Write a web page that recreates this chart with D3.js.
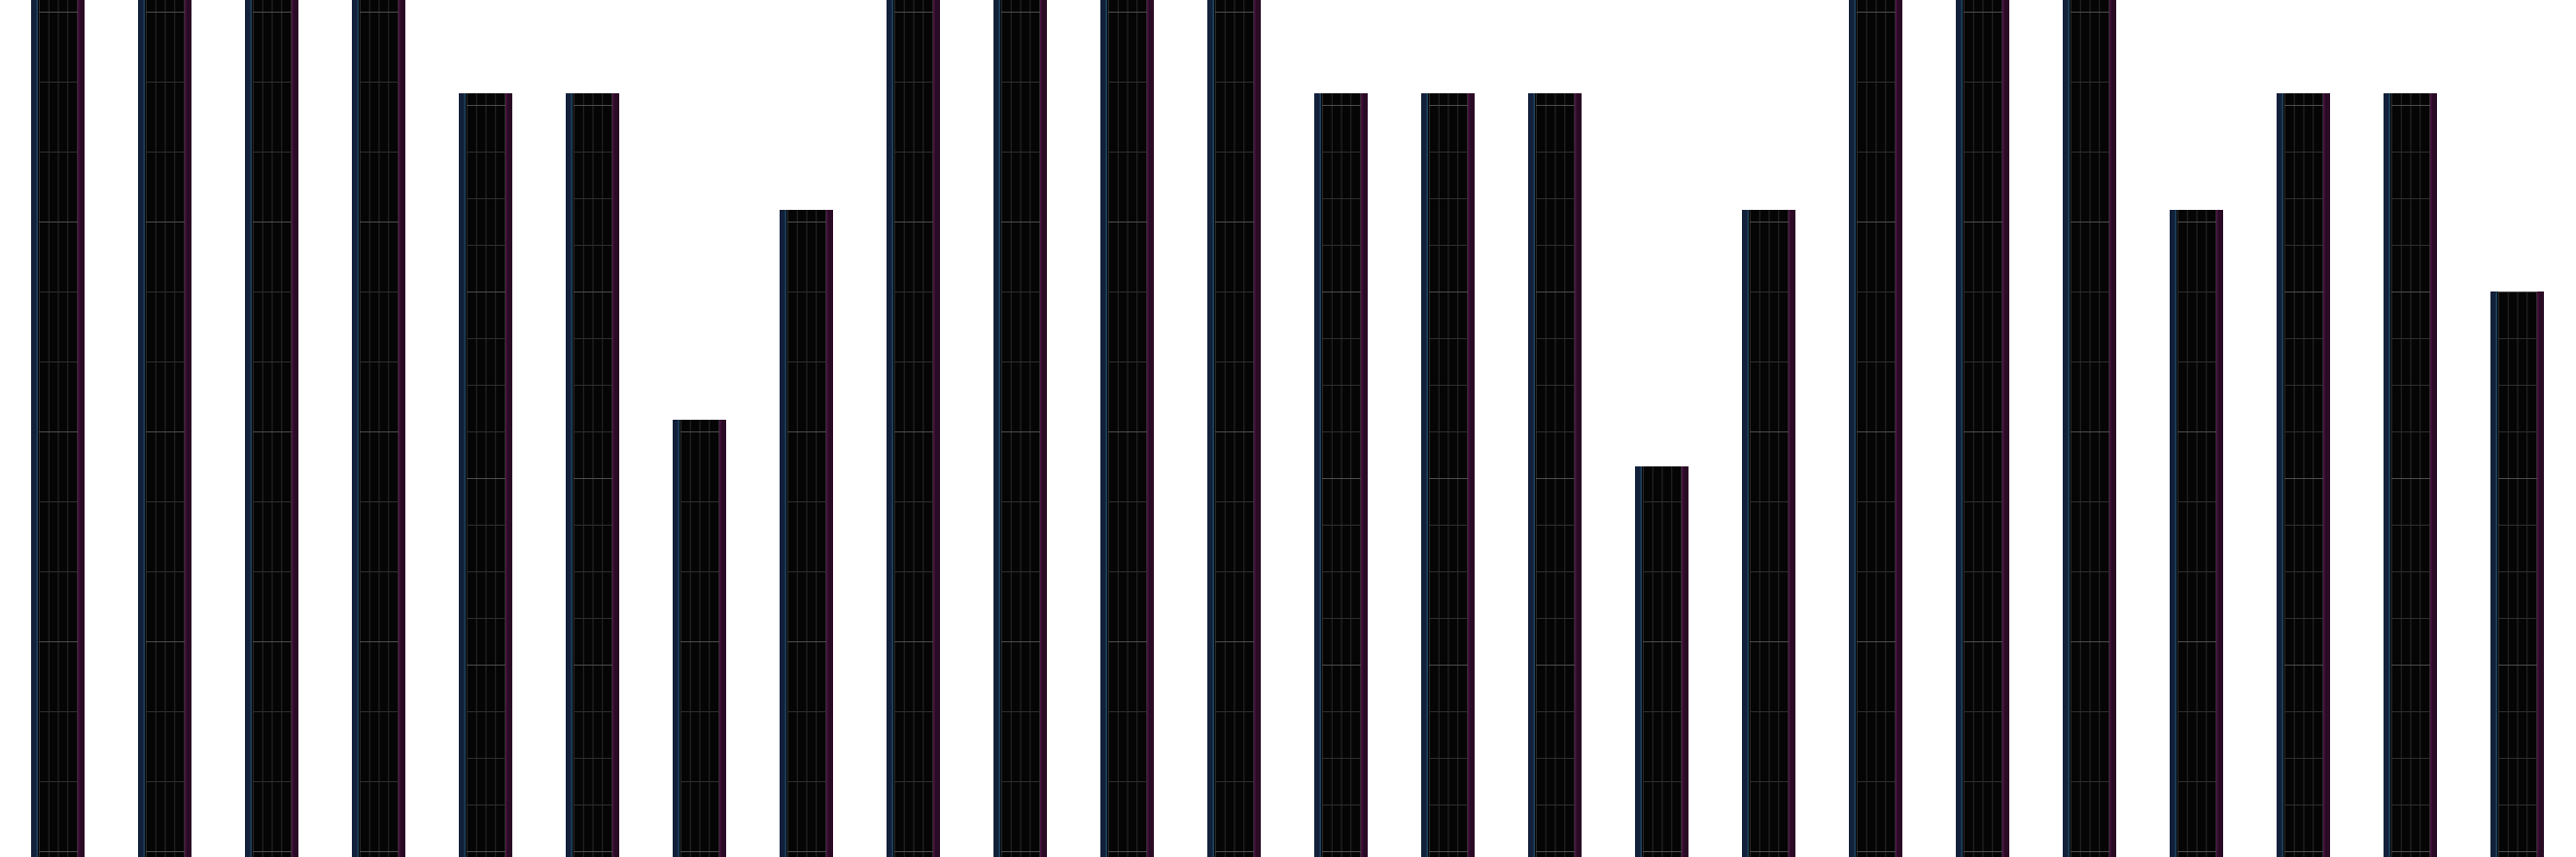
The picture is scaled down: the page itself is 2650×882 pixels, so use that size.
<!DOCTYPE html>
<html>
<head>
<meta charset="utf-8">
<script src="https://cdn.jsdelivr.net/npm/d3@7"></script>
<style>
	html, body { margin: 0; padding: 0; background: #fff; overflow: hidden; }
	svg { display: block; }
</style>
</head>
<body>
<svg id="chart"></svg>
<script>
const labels = ["1", "2", "3", "4", "5", "6", "7", "8", "9", "10", "11", "12",
	"13", "14", "15", "16", "17", "18", "19", "20", "21", "22", "23", "24"]

const values = [73, 73, 73, 73, 65, 65, 37, 55, 73, 73, 73, 73,
	65, 65, 65, 33, 55, 73, 73, 73, 55, 65, 65, 48]

// which grid each bar uses
const groups = ["a", "a", "a", "a", "b", "b", "a", "a", "a", "a", "a", "a",
	"b", "b", "b", "a", "a", "a", "a", "a", "a", "b", "b", "b"]

const gridGroups = ["a", "b"]
const gridSteps = [6, 4]
const gridMajors = [18, 16]

const width = 2650,
	height = 882

const svg = d3.select("#chart")
	.attr("width", width)
	.attr("height", height)

const x = d3.scaleBand()
	.domain(labels)
	.range([4.5, width - 5.5])
	.paddingInner(0.5)
	.paddingOuter(0.25)

const y = d3.scaleLinear()
	.domain([-0.5, 73])
	.range([height, 0])

const stepOf = d3.scaleOrdinal().domain(gridGroups).range(gridSteps)
const majorOf = d3.scaleOrdinal().domain(gridGroups).range(gridMajors)

const bw = x.bandwidth()
const side = bw * 7 / 55
const cols = d3.scaleLinear().domain([0, 4]).range([bw * 8.5 / 55, bw * 47.5 / 55])

const bars = svg.selectAll("g.bar")
	.data(labels.map((d, i) => ({label: d, value: values[i], group: groups[i]})))
	.join("g")
		.attr("class", "bar")
		.attr("transform", d => `translate(${x(d.label)},0)`)

// inner black body
bars.append("rect")
	.attr("x", side)
	.attr("width", bw - 2 * side)
	.attr("y", d => y(d.value))
	.attr("height", d => height - y(d.value))
	.attr("fill", "#050505")

// left blue strip
bars.append("rect")
	.attr("x", 0)
	.attr("width", side)
	.attr("y", d => y(d.value))
	.attr("height", d => height - y(d.value))
	.attr("fill", "#12203a")

bars.append("line")
	.attr("x1", side - 0.75).attr("x2", side - 0.75)
	.attr("y1", d => y(d.value)).attr("y2", height)
	.attr("stroke", "#1e4560")
	.attr("stroke-width", 1.5)

// right magenta strip
bars.append("rect")
	.attr("x", bw - side)
	.attr("width", side)
	.attr("y", d => y(d.value))
	.attr("height", d => height - y(d.value))
	.attr("fill", "#2a0b25")

bars.append("line")
	.attr("x1", bw - side + 0.75).attr("x2", bw - side + 0.75)
	.attr("y1", d => y(d.value)).attr("y2", height)
	.attr("stroke", "#4a1342")
	.attr("stroke-width", 1.5)

// vertical grid
bars.selectAll("line.col")
	.data(d => d3.range(5).map(k => ({k, value: d.value})))
	.join("line")
		.attr("class", "col")
		.attr("x1", d => cols(d.k)).attr("x2", d => cols(d.k))
		.attr("y1", d => y(d.value)).attr("y2", height)
		.attr("stroke", "#2a2a2a")
		.attr("stroke-width", 1)

// horizontal grid
bars.selectAll("line.row")
	.data(d => d3.range(0, d.value + 0.001, stepOf(d.group))
		.map(t => ({t, major: t % majorOf(d.group) === 0})))
	.join("line")
		.attr("class", "row")
		.attr("x1", cols(0) - 0.5).attr("x2", cols(4) + 0.5)
		.attr("y1", d => y(d.t) + 0.5).attr("y2", d => y(d.t) + 0.5)
		.attr("stroke", d => d.major ? "#4c4c4c" : "#2e2e2e")
		.attr("stroke-width", 1)
</script>
</body>
</html>
